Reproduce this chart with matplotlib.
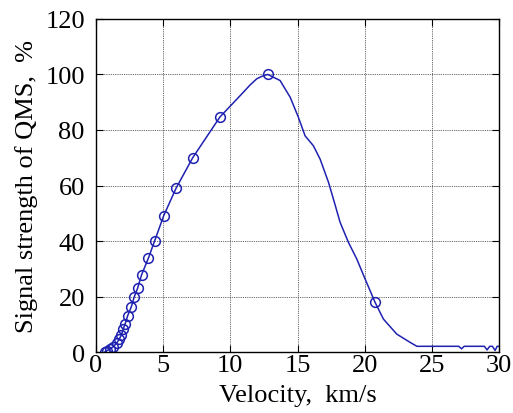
import matplotlib

matplotlib.use("Agg")

import matplotlib.pyplot as plt

# continuous signal curve (km/s, %)
vel_line = [0.67, 0.8, 1.04, 1.29, 1.54, 1.73, 1.89, 2.03, 2.18, 2.36, 2.63, 2.85,
            3.1, 3.4, 3.9, 4.37, 5.04, 5.96, 7.2, 9.23, 10.72, 11.47, 11.96, 12.34,
            12.78, 13.7, 14.45, 15.06, 15.56, 16.18, 16.68, 17.3, 17.67, 18.17,
            18.79, 19.41, 20.03, 20.77, 21.39, 22.38, 23.38, 23.88, 27.0, 27.2,
            27.4, 28.9, 29.1, 29.3, 29.5, 29.7, 29.85, 30.0]
sig_line = [0.1, 0.5, 1.1, 2.0, 3.2, 4.7, 6.1, 8.3, 10.3, 13.1, 16.3, 19.9,
            23.0, 27.9, 33.8, 40.1, 49.1, 59.0, 70.0, 84.7, 92.3, 96.2, 98.4, 99.3,
            100.0, 97.8, 91.8, 84.6, 77.9, 74.3, 69.5, 61.2, 55.1, 46.7,
            39.5, 33.5, 26.3, 17.9, 11.9, 6.5, 3.5, 2.1, 2.1, 1.2,
            2.1, 2.1, 0.8, 2.1, 2.1, 0.6, 2.1, 2.1]

# measured points shown with circles
vel_marks = [0.67, 0.8, 1.04, 1.29, 1.54, 1.73, 1.89, 2.03, 2.18, 2.36, 2.63, 2.85,
             3.1, 3.4, 3.9, 4.37, 5.04, 5.96, 7.2, 9.23, 12.78, 20.77]
sig_marks = [0.1, 0.5, 1.1, 2.0, 3.2, 4.7, 6.1, 8.3, 10.3, 13.1, 16.3, 19.9,
             23.0, 27.9, 33.8, 40.1, 49.1, 59.0, 70.0, 84.7, 100.0, 17.9]

LINE_COLOR = "#1f22b0"

plt.rcParams["font.family"] = ["Liberation Serif", "DejaVu Serif"]

fig = plt.figure(figsize=(5.13, 4.14), dpi=100)
ax = fig.add_axes([0.187, 0.147, 0.786, 0.805])

ax.plot(vel_line, sig_line, color=LINE_COLOR, linewidth=1.1)
ax.plot(vel_marks, sig_marks, linestyle="none", marker="o", markersize=7,
        markerfacecolor="none", markeredgecolor=LINE_COLOR, markeredgewidth=1.1)

ax.set_xlim(0, 30)
ax.set_ylim(0, 120)
ax.set_xticks(range(0, 31, 5))
ax.set_yticks(range(0, 121, 20))
ax.grid(True, color="#333333", linestyle=(0, (1, 1.2)), linewidth=0.6)
ax.tick_params(direction="in", top=True, right=True, labelsize=19, length=5)
ax.tick_params(axis="x", pad=1)
ax.tick_params(axis="y", pad=8)
for spine in ax.spines.values():
    spine.set_linewidth(1.0)

ax.set_xlabel("Velocity,  km/s", fontsize=19, labelpad=6)
ax.set_ylabel("Signal strength of QMS,  %", fontsize=19, labelpad=5)

fig.savefig("out.png", dpi=100)
plt.close(fig)
